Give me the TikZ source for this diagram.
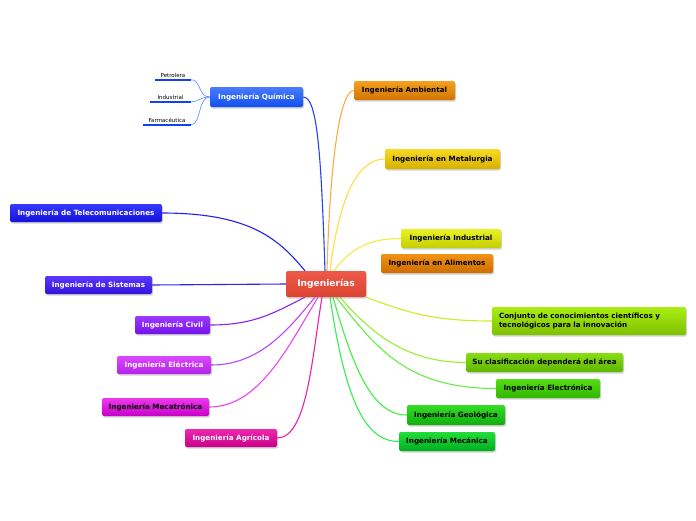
\documentclass[tikz,border=0pt]{standalone}
\usepackage{fontspec}
\setmainfont{DejaVu Sans}
\usetikzlibrary{shadows}
\pgfdeclarelayer{bgfill}
\pgfdeclarelayer{bg}
\pgfsetlayers{bgfill,bg,main}
\definecolor{cRedT}{HTML}{EE5A48}
\definecolor{cRedB}{HTML}{DC4432}
\definecolor{qT}{HTML}{4A7BFF}
\definecolor{qB}{HTML}{1150EE}
\definecolor{ambT}{HTML}{F5A020}
\definecolor{ambB}{HTML}{CF7600}
\definecolor{metT}{HTML}{F8DA22}
\definecolor{metB}{HTML}{D6B000}
\definecolor{indT}{HTML}{E8F224}
\definecolor{indB}{HTML}{C4CE00}
\definecolor{aliT}{HTML}{F29214}
\definecolor{aliB}{HTML}{CC6E00}
\definecolor{conT}{HTML}{AAEE12}
\definecolor{conB}{HTML}{7EC000}
\definecolor{suT}{HTML}{88DD12}
\definecolor{suB}{HTML}{5EB600}
\definecolor{eleT}{HTML}{55DD14}
\definecolor{eleB}{HTML}{30B600}
\definecolor{geoT}{HTML}{33DD24}
\definecolor{geoB}{HTML}{10AE10}
\definecolor{mecT}{HTML}{22DD38}
\definecolor{mecB}{HTML}{00AE22}
\definecolor{telT}{HTML}{3838FF}
\definecolor{telB}{HTML}{1212DA}
\definecolor{sisT}{HTML}{5A38FF}
\definecolor{sisB}{HTML}{3412DA}
\definecolor{civT}{HTML}{9C3AFF}
\definecolor{civB}{HTML}{7412EA}
\definecolor{elcT}{HTML}{DC48FF}
\definecolor{elcB}{HTML}{B422EA}
\definecolor{mctT}{HTML}{EE38EE}
\definecolor{mctB}{HTML}{C800C8}
\definecolor{agrT}{HTML}{EE28AE}
\definecolor{agrB}{HTML}{C80088}
\definecolor{lq}{HTML}{2244EE}
\definecolor{lamb}{HTML}{FFAA44}
\definecolor{lmet}{HTML}{FFDD44}
\definecolor{lind}{HTML}{EEEE44}
\definecolor{lcon}{HTML}{CCEE22}
\definecolor{lsu}{HTML}{99EE33}
\definecolor{lele}{HTML}{66EE44}
\definecolor{lgeo}{HTML}{44EE44}
\definecolor{lmec}{HTML}{33EE55}
\definecolor{ltel}{HTML}{2222EE}
\definecolor{lsis}{HTML}{3322EE}
\definecolor{lciv}{HTML}{8822EE}
\definecolor{lelc}{HTML}{BB44FF}
\definecolor{lmct}{HTML}{EE44EE}
\definecolor{lagr}{HTML}{EE22AA}
\definecolor{lsub}{HTML}{6699FF}
\definecolor{lul}{HTML}{1144EE}
\tikzset{
  x=1pt,y=-1pt,
  box/.style={rounded corners=2pt, inner sep=0pt, minimum height=19pt,
    font=\fontsize{7.2}{8.6}\selectfont\bfseries, align=center,
    drop shadow={opacity=0.35, shadow xshift=1pt, shadow yshift=-1.5pt}},
  lnk/.style={line width=1.1pt},
  sub/.style={line width=0.7pt, color=lsub},
  ul/.style={line width=2pt, color=lul},
  small/.style={font=\fontsize{5.5}{6}\selectfont, inner sep=1pt, minimum height=8pt},
}
\begin{document}
\begin{tikzpicture}
\useasboundingbox (0,0) rectangle (696,520);
\begin{pgfonlayer}{bgfill}
\fill[white] (0,0) rectangle (696,520);
\end{pgfonlayer}

% nodes
\node[box, minimum width=80pt, minimum height=26pt, top color=cRedT, bottom color=cRedB, text=white, font=\fontsize{9.1}{10}\selectfont\bfseries] (c) at (326,284) {Ingenierías};

\node[box, minimum width=93pt, minimum height=20pt, top color=qT, bottom color=qB, text=white] (quim) at (256.5,97) {Ingeniería Química};
\node[box, minimum width=101pt, top color=ambT, bottom color=ambB, text=black] (amb) at (404.5,90.5) {Ingeniería Ambiental};
\node[box, minimum width=115pt, minimum height=20pt, top color=metT, bottom color=metB, text=black] (met) at (442.5,159) {Ingeniería en Metalurgia};
\node[box, minimum width=100pt, top color=indT, bottom color=indB, text=black] (ind) at (451,238.5) {Ingeniería Industrial};
\node[box, minimum width=112pt, top color=aliT, bottom color=aliB, text=black] (ali) at (437,263.5) {Ingeniería en Alimentos};
\node[box, minimum width=194pt, minimum height=28pt, top color=conT, bottom color=conB, text=black, align=left, text width=180pt] (conj) at (589,321) {Conjunto de conocimientos científicos y\\tecnológicos para la innovación};
\node[box, minimum width=157pt, top color=suT, bottom color=suB, text=black] (su) at (544.5,362.5) {Su clasificación dependerá del área};
\node[box, minimum width=104pt, top color=eleT, bottom color=eleB, text=black] (ele) at (548,388.5) {Ingeniería Electrónica};
\node[box, minimum width=98pt, minimum height=20pt, top color=geoT, bottom color=geoB, text=black] (geo) at (456,415) {Ingeniería Geológica};
\node[box, minimum width=96pt, top color=mecT, bottom color=mecB, text=black] (mec) at (447,441.5) {Ingeniería Mecánica};

\node[box, minimum width=152pt, minimum height=18pt, top color=telT, bottom color=telB, text=white] (tel) at (86,213) {Ingeniería de Telecomunicaciones};
\node[box, minimum width=107pt, minimum height=18pt, top color=sisT, bottom color=sisB, text=white] (sis) at (98.5,285) {Ingeniería de Sistemas};
\node[box, minimum width=75pt, minimum height=18pt, top color=civT, bottom color=civB, text=white] (civ) at (172.5,325) {Ingeniería Civil};
\node[box, minimum width=94pt, minimum height=18pt, top color=elcT, bottom color=elcB, text=white] (elc) at (164,365) {Ingeniería Eléctrica};
\node[box, minimum width=107pt, minimum height=18pt, top color=mctT, bottom color=mctB, text=black] (mct) at (155.5,407) {Ingeniería Mecatrónica};
\node[box, minimum width=92pt, minimum height=18pt, top color=agrT, bottom color=agrB, text=white] (agr) at (231,438) {Ingeniería Agrícola};

% Quimica children
\node[small, minimum width=36pt] (pet) at (173,75.5) {Petrolera};
\node[small, minimum width=41pt] (indq) at (170.5,97.5) {Industrial};
\node[small, minimum width=48pt] (far) at (167,120.5) {Farmacéutica};

\begin{pgfonlayer}{bg}
\draw[ul] (pet.south west) -- (pet.south east);
\draw[ul] (indq.south west) -- (indq.south east);
\draw[ul] (far.south west) -- (far.south east);
\draw[sub] (quim.west) .. controls +(-12,0) and +(10,0) .. (pet.south east);
\draw[sub] (quim.west) .. controls +(-10,0) and +(8,0) .. (indq.south east);
\draw[sub] (quim.west) .. controls +(-12,0) and +(10,0) .. (far.south east);

\draw[lnk, color=lq] ([xshift=-1pt]c.north) .. controls +(-4,-120) and +(14,0) .. (quim.east);
\draw[lnk, color=lamb] ([xshift=1pt]c.north) .. controls +(4,-140) and +(-10,0) .. (amb.west);
\draw[lnk, color=lmet] ([xshift=4pt]c.north) .. controls +(10,-80) and +(-25,0) .. (met.west);
\draw[lnk, color=lind] ([xshift=8pt]c.north) .. controls +(15,-20) and +(-35,0) .. (ind.west);
\draw[lnk, color=lcon] (c.south east) .. controls +(40,15) and +(-60,0) .. (conj.west);
\draw[lnk, color=lsu] ([xshift=14pt]c.south) .. controls +(30,35) and +(-60,0) .. (su.west);
\draw[lnk, color=lele] ([xshift=10pt]c.south) .. controls +(40,50) and +(-90,0) .. (ele.west);
\draw[lnk, color=lgeo] ([xshift=7pt]c.south) .. controls +(20,70) and +(-35,0) .. (geo.west);
\draw[lnk, color=lmec] ([xshift=4pt]c.south) .. controls +(15,100) and +(-35,0) .. (mec.west);

\draw[lnk, color=ltel] (tel.east) .. controls +(90,0) and +(-25,-30) .. ([xshift=-21pt]c.north);
\draw[lnk, color=lsis] (sis.east) -- (c.west);
\draw[lnk, color=lciv] (civ.east) .. controls +(45,0) and +(-30,15) .. ([xshift=-21pt]c.south);
\draw[lnk, color=lelc] (elc.east) .. controls +(50,0) and +(-25,30) .. ([xshift=-11pt]c.south);
\draw[lnk, color=lmct] (mct.east) .. controls +(50,0) and +(-30,50) .. ([xshift=-8pt]c.south);
\draw[lnk, color=lagr] (agr.east) .. controls +(30,0) and +(-10,60) .. ([xshift=-4pt]c.south);
\end{pgfonlayer}
\end{tikzpicture}
\end{document}
